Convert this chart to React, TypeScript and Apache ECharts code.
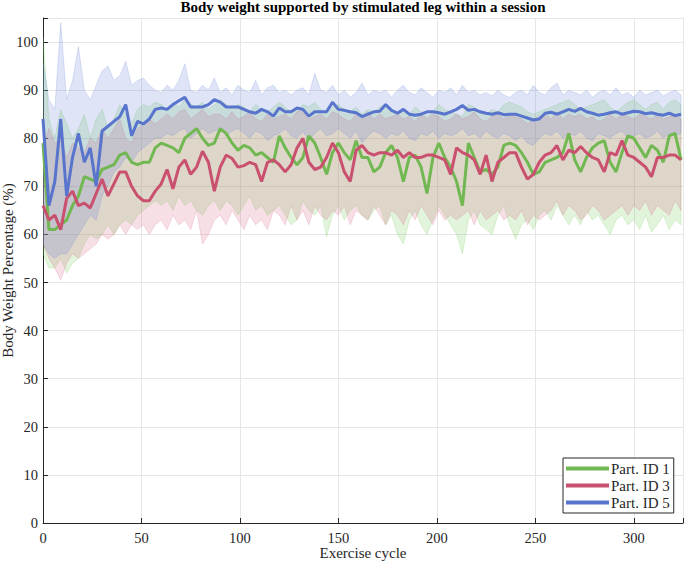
import React, { useEffect, useRef } from "react";
import * as echarts from "echarts";

const TITLE = "Body weight supported by stimulated leg within a session";
const X_LABEL = "Exercise cycle";
const Y_LABEL = "Body Weight Percentage (%)";
const SERIES_NAMES = ["Part. ID 1", "Part. ID 3", "Part. ID 5"];
const COLORS = ["#72b852", "#c9506f", "#5874cc"];
const BAND_RGB = ["110,200,80", "215,95,130", "95,125,215"];

// Sampled every 3 exercise cycles: 0, 3, ..., 324
const CYCLE_STEP = 3;

const green = [
  79, 61, 61, 62, 63, 66, 68, 72, 71.5, 71,
  73.5, 74, 74.5, 76.5, 77, 75, 74.5, 75, 75, 78,
  79, 78.5, 78, 77, 80, 81, 82, 80, 78.5, 79,
  82, 81, 79, 77.5, 78.5, 78, 76.5, 77, 76, 75,
  80.5, 78, 76, 74.5, 76, 80.5, 79, 76, 72.5, 77,
  79, 77, 75.5, 79.5, 76, 76, 73, 74, 77, 78.5,
  76, 71, 76, 76.5, 74, 68.5, 76, 79, 76, 74,
  71, 66, 79, 76, 73, 73.5, 72.5, 74, 78.5, 79,
  78.5, 77, 75, 72.5, 73, 75, 75.5, 76, 77, 81,
  75.5, 73, 76, 78, 79, 79.5, 75, 73, 77, 80.5,
  80, 78, 76, 78.5, 77.5, 75, 80.5, 81, 75.5,
];
const red = [
  66, 63, 64, 61, 67.5, 69, 66, 66.5, 65.5, 68.5,
  71.5, 68, 70.5, 73, 73, 70, 68, 67, 67, 69,
  70.5, 73.5, 69.5, 74, 75.5, 72.5, 74, 77.3, 75, 69,
  74, 76.5, 75.8, 74, 74.3, 75, 74.5, 71, 75, 75.5,
  74.5, 73, 74.5, 78, 80, 75, 73.5, 74, 76, 79,
  77, 73, 71, 77.5, 78.5, 77, 76.5, 77, 77, 76.5,
  77.5, 76, 77, 76, 76, 76.5, 76.5, 76, 75.5, 72.5,
  78, 77, 76.5, 75.5, 72.5, 76.5, 71, 75, 76, 77,
  77, 74, 71.5, 72.5, 75, 76.5, 77, 78.5, 75.5, 77.5,
  77, 78.3, 77, 76, 75.5, 73, 77, 76.5, 79.5, 76.5,
  76, 75, 74, 72, 76, 76, 76.5, 76.5, 75.5,
];
const blue = [
  84, 66, 71, 84, 68, 76, 81, 75, 78, 70,
  81.5, 82.5, 83.5, 84.5, 87, 80.5, 83.5, 83, 84, 86,
  86.3, 86, 87, 87.8, 88.5, 86.5, 86.5, 86.5, 87, 88,
  87.5, 86.5, 86.5, 86.5, 86, 85.5, 85.2, 86, 85.5, 84.6,
  86.3, 85.5, 85.5, 86.3, 86, 84.6, 85.5, 85.5, 85.5, 87.5,
  86, 85.8, 85.5, 85.3, 84.5, 85, 85.5, 85.6, 87, 85.8,
  85.2, 86, 85, 84.8, 85, 85.5, 85.5, 85.3, 85, 85.5,
  86, 86.8, 85.8, 86, 85.5, 85.2, 85, 85.3, 84.9, 85,
  85, 84.6, 84.2, 83.8, 84, 85.2, 85.4, 85, 85.5, 86,
  85.6, 86.2, 85.5, 85.2, 84.8, 85, 85.3, 85.5, 85, 85.3,
  85.6, 85.5, 85.1, 85.3, 85, 84.8, 85.2, 84.7, 85,
];

const greenUpper = [
  101, 84, 80, 86, 83, 80, 82, 85, 80, 84,
  86, 82, 84, 87, 85, 83, 86, 87, 86.5, 87.5,
  87, 86, 87.5, 86.5, 88, 87, 86.5, 87.5, 86, 87,
  88, 87, 86, 87, 86.5, 85.5, 87, 86, 85.5, 86.5,
  87.5, 86.5, 85.5, 86, 87, 86.5, 87.5, 86, 85, 86.5,
  87, 86, 85.5, 86.5, 85, 86, 85.5, 86.5, 87, 86,
  85.5, 86, 85, 86.5, 85.5, 84.5, 85.5, 87, 86, 85.5,
  85, 84.5, 87, 86.5, 85.5, 85, 86, 85.5, 87, 87.5,
  87, 86.5, 85.5, 85, 85.5, 86, 86.5, 87, 87.5, 88,
  87, 86, 86.5, 87, 87.5, 88, 86.5, 85.5, 86.5, 87.5,
  88, 87, 86, 87, 87.5, 86, 87.5, 88, 87,
];
const greenLower = [
  56, 53, 53, 55, 52, 54, 55, 58, 60, 59,
  60, 62, 60, 62, 63, 62, 64, 65, 66, 67,
  66, 67, 65, 68, 66, 67, 65, 64, 66, 67,
  65, 67, 66, 64, 66, 68, 65, 66, 64, 65,
  66, 64, 62, 63, 67, 65, 64, 66, 59.5, 64,
  66, 63, 65, 66, 64, 63, 65, 66, 62, 64,
  60, 58, 63, 65, 62, 60, 63, 66, 64, 62,
  60, 56, 63, 65, 62, 61, 60, 64, 66, 62,
  59, 62, 63, 61, 64, 65, 63, 66, 64, 62,
  64, 62, 65, 63, 64, 62, 60, 63, 64, 62,
  63, 61, 64, 60.5, 62, 64, 61, 63, 62,
];
const redUpper = [
  78, 82, 79, 80, 76, 79, 78, 77, 80, 79,
  82, 80, 82, 84, 80, 79, 82, 83, 84, 83,
  84, 85, 84, 85.5, 86, 84, 85, 86, 84.5, 85,
  85, 84, 85.5, 84, 84.5, 85.5, 84, 83.5, 85, 84,
  84.5, 85, 84, 85.5, 86, 84, 84.5, 85, 84, 85.5,
  85, 84, 83.5, 85, 84.5, 85.5, 84, 85, 84, 84.5,
  85, 84, 84.5, 83.5, 85, 84, 85, 84.5, 83.5, 84,
  85, 84, 84.5, 85.5, 84, 83.5, 84.5, 85, 84, 85,
  84.5, 84, 83, 84, 84.5, 85, 84, 85.5, 84, 85,
  84.5, 85, 84, 84.5, 83.5, 84, 85, 84, 85, 84.5,
  84, 85, 84.5, 84, 85, 84, 84.5, 85, 84,
];
const redLower = [
  58, 55, 53, 50.5, 54, 56, 55, 56, 57, 58,
  60, 59, 60, 62, 60, 62, 61, 62, 60, 62,
  63, 61, 64, 62, 63, 61, 65, 58, 60, 63,
  64, 62, 65, 63, 61, 64, 62, 63, 61, 65,
  64, 62, 66, 63, 65, 62, 66, 64, 63, 65,
  64, 66, 62, 65, 64, 63, 66, 64, 62, 65,
  64, 62, 65, 63, 66, 64, 62, 65, 63, 64,
  63, 64, 65, 62, 65, 63, 64, 65, 63, 64,
  63, 65, 62, 64, 63, 64, 65, 67, 64, 66,
  65, 63, 64, 66, 65, 63, 64, 65, 66, 64,
  66, 65, 67, 64, 66, 65, 64, 67, 65,
];
const blueUpper = [
  96, 88, 86, 104, 88, 92, 99, 90, 88, 91,
  94, 95, 92, 93, 96, 91, 92, 92.5, 91, 90,
  89.5, 91, 90, 92, 95.5, 90, 89.5, 91, 90, 92.5,
  89.5, 90.5, 89, 91, 90, 89.5, 92, 89, 90.5, 91,
  89.5, 90, 89, 90, 90.5, 89, 93.5, 90, 89.5, 91,
  89, 90, 88.5, 89.5, 91.5, 89, 90, 89.5, 90, 88.5,
  90, 91, 89.5, 89, 90.5, 89.5, 88.5, 90, 89.5, 90.5,
  89, 91, 89.5, 90, 89, 89.5, 88.8, 90, 89, 88.5,
  89.5, 90, 89, 91, 89.5, 89, 90.5, 91.5, 89, 90,
  89.5, 89, 90, 88.5, 89.5, 90, 89, 90.5, 89, 89.5,
  88.5, 90, 89, 89.5, 90, 88.8, 89.5, 90, 89,
];
const blueLower = [
  58, 56, 55, 56, 56, 58, 60, 62, 64, 63,
  68, 70, 73, 74, 76, 75, 77, 78, 79, 80,
  80, 81, 80.5, 81.5, 82, 80, 81, 82, 81, 81.5,
  82, 80.5, 81.5, 82, 81, 80, 81.5, 81, 79.5, 80.5,
  81, 82, 80.5, 80, 81.5, 79.5, 81, 82, 80.5, 81,
  82, 81, 80, 81.5, 79, 80.5, 81.5, 81, 80, 81,
  80.5, 81.5, 80, 79.5, 81, 80.5, 81.5, 80, 81, 80.5,
  81, 82, 80.5, 81, 80, 81.5, 80.5, 80, 81, 80.5,
  79.5, 80.5, 79, 78.5, 80, 81, 80.5, 81.5, 80, 81,
  80.5, 81.5, 80, 79.5, 81, 80.5, 80, 81, 81.5, 80,
  80.5, 81, 80, 80.5, 81.5, 80, 81, 80.5, 81,
];

const cycles = green.map((_, i) => i * CYCLE_STEP);

const FONT = "'Liberation Serif', 'Times New Roman', serif";
const INK = "#262626";

function bandSeries(upper: number[], lower: number[], rgb: string) {
  return {
    type: "custom",
    silent: true,
    clip: true,
    z: 1,
    data: [[0, 0]],
    encode: { x: 0, y: 1 },
    renderItem: (_params: any, api: any) => {
      const pts: number[][] = [];
      for (let i = 0; i < cycles.length; i++) pts.push(api.coord([cycles[i], upper[i]]));
      for (let i = cycles.length - 1; i >= 0; i--) pts.push(api.coord([cycles[i], lower[i]]));
      return {
        type: "polygon",
        shape: { points: pts },
        style: {
          fill: `rgba(${rgb},0.2)`,
          stroke: `rgba(${rgb},0.35)`,
          lineWidth: 0.6,
        },
      };
    },
  };
}

function lineSeries(name: string, values: number[], color: string) {
  return {
    type: "line",
    name,
    data: values.map((v, i) => [cycles[i], v]),
    showSymbol: false,
    symbol: "none",
    z: 3,
    lineStyle: { color, width: 3 },
    itemStyle: { color },
  };
}

export default function App() {
  const ref = useRef<HTMLDivElement>(null);
  useEffect(() => {
    if (!ref.current) return;
    const chart = echarts.init(ref.current, null, { renderer: "svg" });
    chart.setOption({
      animation: false,
      backgroundColor: "#ffffff",
      title: {
        text: TITLE,
        left: 363,
        top: -1,
        textAlign: "center",
        padding: 0,
        textStyle: { fontFamily: FONT, fontWeight: "bold", fontSize: 15, color: "#000" },
      },
      legend: {
        data: SERIES_NAMES,
        orient: "vertical",
        left: 563,
        top: 458,
        icon: "rect",
        itemWidth: 43,
        itemHeight: 4,
        itemGap: 2,
        padding: [3, 4, 3, 3],
        borderColor: INK,
        borderWidth: 1,
        backgroundColor: "#ffffff",
        textStyle: { fontFamily: FONT, fontSize: 15, color: INK, padding: [0, 0, 0, -3] },
      },
      grid: { left: 43, right: 2, top: 18, bottom: 40, containLabel: false, outerBoundsMode: "none" },
      xAxis: {
        type: "value",
        min: 0,
        max: 325,
        interval: 50,
        name: X_LABEL,
        nameLocation: "middle",
        nameGap: 30,
        nameMoveOverlap: false,
        nameTextStyle: { fontFamily: FONT, fontSize: 15, color: INK, verticalAlign: "middle" },
        axisLine: { show: true, onZero: false, lineStyle: { color: INK, width: 1 } },
        axisTick: { show: true, inside: true, length: 5, lineStyle: { color: INK } },
        axisLabel: {
          fontFamily: FONT,
          fontSize: 14.5,
          color: INK,
          margin: 7,
          formatter: (v: number) => (v % 50 === 0 ? String(v) : ""),
        },
        splitLine: { show: true, lineStyle: { color: "#e6e6e6", width: 1 } },
      },
      yAxis: {
        type: "value",
        min: 0,
        max: 105,
        interval: 10,
        name: Y_LABEL,
        nameLocation: "middle",
        nameGap: 35,
        nameMoveOverlap: false,
        nameTextStyle: { fontFamily: FONT, fontSize: 15, color: INK, verticalAlign: "middle" },
        axisLine: { show: true, onZero: false, lineStyle: { color: INK, width: 1 } },
        axisTick: { show: true, inside: true, length: 5, lineStyle: { color: INK } },
        axisLabel: {
          fontFamily: FONT,
          fontSize: 14.5,
          color: INK,
          margin: 5,
          formatter: (v: number) => (v % 10 === 0 ? String(v) : ""),
        },
        splitLine: { show: true, lineStyle: { color: "#e6e6e6", width: 1 } },
      },
      series: [
        bandSeries(greenUpper, greenLower, BAND_RGB[0]),
        bandSeries(redUpper, redLower, BAND_RGB[1]),
        bandSeries(blueUpper, blueLower, BAND_RGB[2]),
        lineSeries(SERIES_NAMES[0], green, COLORS[0]),
        lineSeries(SERIES_NAMES[1], red, COLORS[1]),
        lineSeries(SERIES_NAMES[2], blue, COLORS[2]),
      ],
    });
    return () => chart.dispose();
  }, []);
  return (
    <div
      ref={ref}
      style={{ position: "fixed", left: 0, top: 0, width: 685, height: 563 }}
    />
  );
}
